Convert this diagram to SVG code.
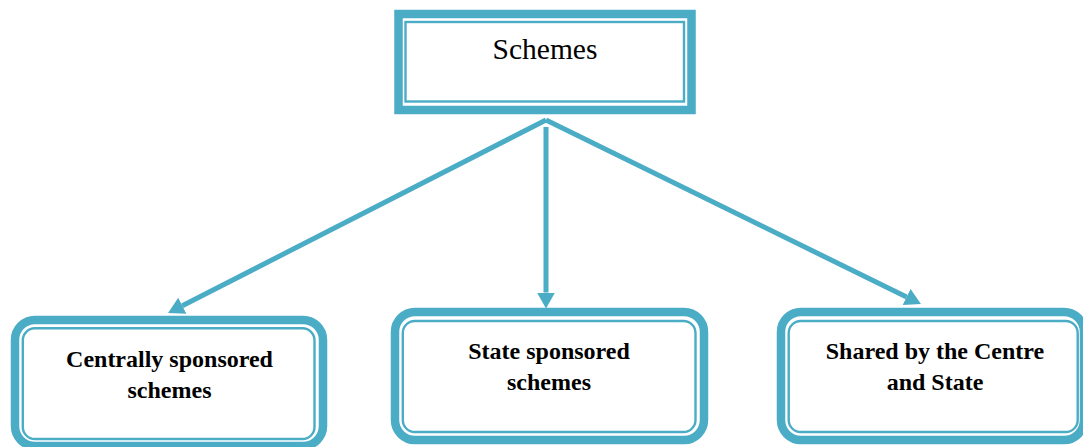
<svg xmlns="http://www.w3.org/2000/svg" width="1083" height="447" viewBox="0 0 1083 447">
  <style>
    .outer { fill: #ffffff; stroke: #4BACC6; stroke-width: 8.5; }
    .inner { fill: none; stroke: #4BACC6; stroke-width: 2.4; }
    .title { font-family: "Liberation Serif", "Times New Roman", "DejaVu Serif", serif; font-size: 29.5px; fill: #000000; text-anchor: middle; }
    .label { font-family: "Liberation Serif", "Times New Roman", "DejaVu Serif", serif; font-size: 24px; font-weight: bold; fill: #000000; text-anchor: middle; }
    .link { stroke: #4BACC6; stroke-width: 5; fill: none; stroke-linecap: butt; }
  </style>
  <defs>
    <marker id="arrow" markerUnits="userSpaceOnUse" markerWidth="18" markerHeight="20" viewBox="0 -10 18 20" refX="0" refY="0" orient="auto">
      <path d="M0,-9 L16,0 L0,9 Z" fill="#4BACC6"/>
    </marker>
  </defs>

  <rect width="1083" height="447" fill="#ffffff"/>

  <!-- root node -->
  <g id="schemes">
    <rect class="outer" x="398.5" y="14" width="293" height="96"/>
    <rect class="inner" x="405.5" y="22" width="278.5" height="79.5"/>
    <text class="title" x="545" y="58.5">Schemes</text>
  </g>

  <!-- connectors from the root to each scheme type -->
  <g id="connectors">
    <line class="link" x1="546" y1="120" x2="182.3" y2="305.7" marker-end="url(#arrow)"/>
    <line class="link" x1="546" y1="127" x2="546" y2="292.5" marker-end="url(#arrow)"/>
    <line class="link" x1="546" y1="120" x2="906.6" y2="297" marker-end="url(#arrow)"/>
  </g>

  <g id="centrally-sponsored">
    <rect class="outer" x="15" y="320" width="308" height="126" rx="20" ry="20"/>
    <rect class="inner" x="22.8" y="328.3" width="291.7" height="110.7" rx="12" ry="12"/>
    <text class="label" x="169.5" y="366.7">Centrally sponsored</text>
    <text class="label" x="169.5" y="398.3">schemes</text>
  </g>

  <g id="state-sponsored">
    <rect class="outer" x="395" y="312" width="309" height="128" rx="20" ry="20"/>
    <rect class="inner" x="402.8" y="321" width="292.7" height="111" rx="12" ry="12"/>
    <text class="label" x="549" y="359">State sponsored</text>
    <text class="label" x="549" y="390">schemes</text>
  </g>

  <g id="shared">
    <rect class="outer" x="781" y="312" width="303" height="128" rx="20" ry="20"/>
    <rect class="inner" x="788.7" y="321" width="289" height="111" rx="12" ry="12"/>
    <text class="label" x="935" y="359">Shared by the Centre</text>
    <text class="label" x="935" y="390">and State</text>
  </g>
</svg>
